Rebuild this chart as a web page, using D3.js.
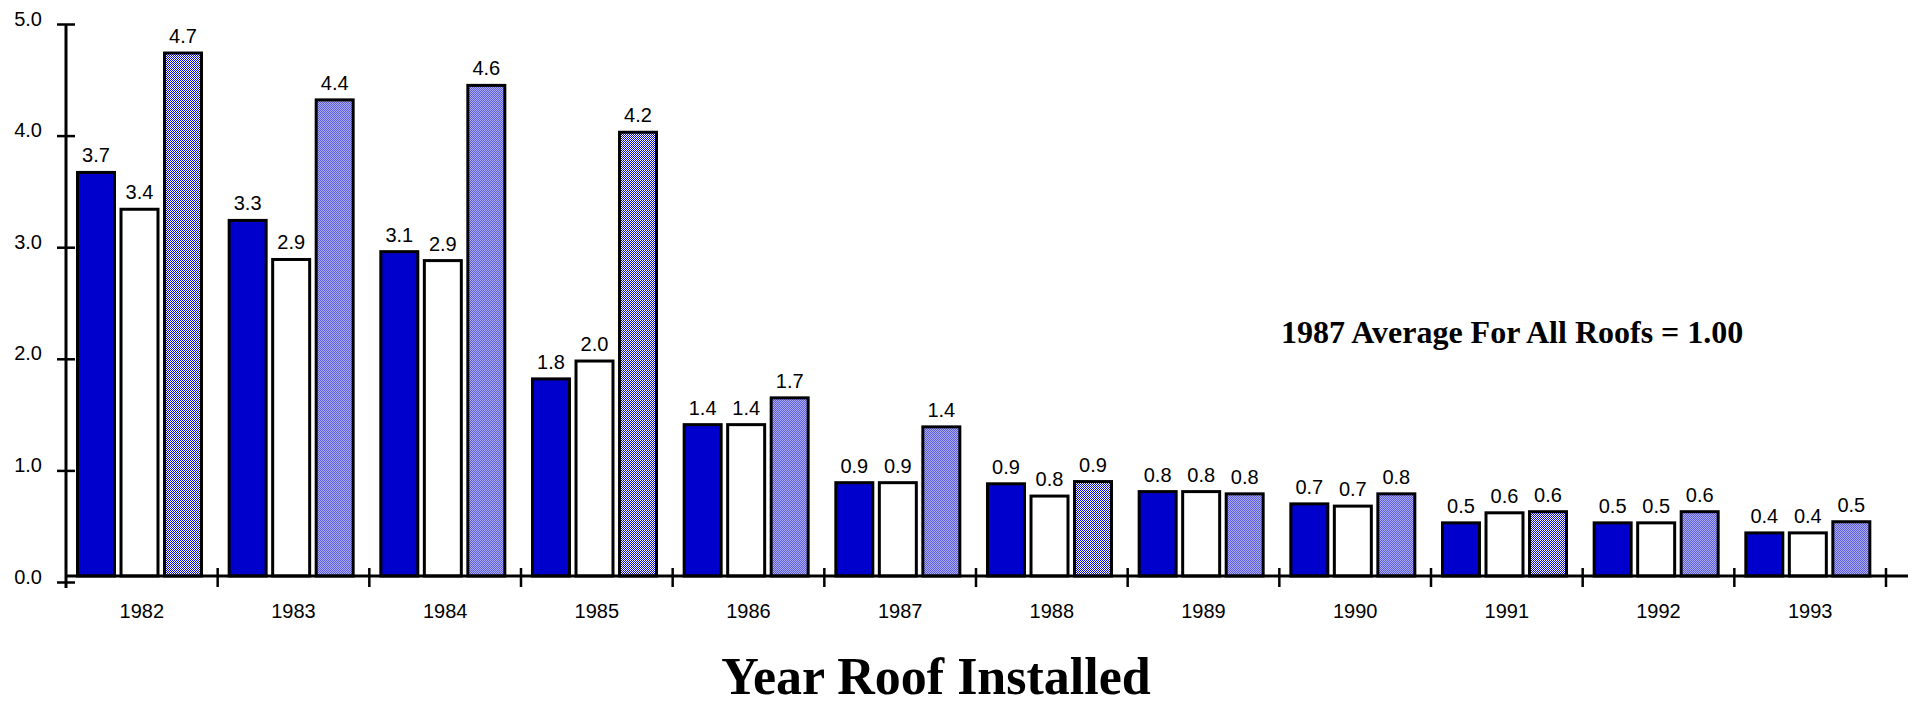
<!DOCTYPE html>
<meta charset="utf-8">
<style>
  body { margin: 0; background: #fff; }
  text { font-family: "Liberation Sans", Arial, sans-serif; fill: #000; }
  .serif { font-family: "Liberation Serif", "Times New Roman", serif; font-weight: bold; }
</style>
<body>
<script src="https://d3js.org/d3.v7.min.js"></script>
<script>

// chart data
var years = ["1982", "1983", "1984", "1985", "1986", "1987", "1988", "1989", "1990", "1991", "1992", "1993"];
var seriesNames = ["blue", "white", "dotted"];
var blueValues   = [3.67, 3.24, 2.96, 1.82, 1.41, 0.89, 0.88, 0.81, 0.70, 0.53, 0.53, 0.44];
var whiteValues  = [3.34, 2.89, 2.88, 1.98, 1.41, 0.89, 0.77, 0.81, 0.68, 0.62, 0.53, 0.44];
var dottedValues = [4.74, 4.32, 4.45, 4.03, 1.65, 1.39, 0.90, 0.79, 0.79, 0.63, 0.63, 0.54];
var blueLabels   = ["3.7", "3.3", "3.1", "1.8", "1.4", "0.9", "0.9", "0.8", "0.7", "0.5", "0.5", "0.4"];
var whiteLabels  = ["3.4", "2.9", "2.9", "2.0", "1.4", "0.9", "0.8", "0.8", "0.7", "0.6", "0.5", "0.4"];
var dottedLabels = ["4.7", "4.4", "4.6", "4.2", "1.7", "1.4", "0.9", "0.8", "0.8", "0.6", "0.6", "0.5"];
var yTicks = [0, 1, 2, 3, 4, 5];
var xTitle = "Year Roof Installed";
var note = "1987 Average For All Roofs = 1.00";

var width = 1916, height = 707;

var svg = d3.select("body").append("svg")
    .attr("width", width)
    .attr("height", height);

// dithered blue fill for the third series
var pat = svg.append("defs").append("pattern")
    .attr("id", "dots")
    .attr("width", 2).attr("height", 2)
    .attr("patternUnits", "userSpaceOnUse");
pat.append("rect").attr("width", 2).attr("height", 2).attr("fill", "#ffffff");
pat.append("rect").attr("x", 0).attr("y", 0).attr("width", 1).attr("height", 1).attr("fill", "#0a0ad4");
pat.append("rect").attr("x", 1).attr("y", 1).attr("width", 1).attr("height", 1).attr("fill", "#0a0ad4");

var fills = { blue: "#0000cd", white: "#ffffff", dotted: "url(#dots)" };

// scales
var axisX = 66;
var x = d3.scaleBand().domain(years).range([axisX, 1886]).padding(0);
var xs = d3.scaleBand().domain(seriesNames).range([11.5, 135.5]).paddingInner(0.15);
var y = d3.scaleLinear().domain([0, 5]).range([582, 24]);
var baseY = y(0) - 6;   // the horizontal axis sits a little above the 0.0 tick

// build rows
var rows = years.map(function(yr, i) {
  return [
    { year: yr, s: "blue",   v: blueValues[i],   label: blueLabels[i] },
    { year: yr, s: "white",  v: whiteValues[i],  label: whiteLabels[i] },
    { year: yr, s: "dotted", v: dottedValues[i], label: dottedLabels[i] }
  ];
});

var groups = svg.selectAll("g.year")
    .data(rows)
  .enter().append("g")
    .attr("class", "year")
    .attr("transform", function(d, i) { return "translate(" + x(years[i]) + ",0)"; });

groups.selectAll("rect")
    .data(function(d) { return d; })
  .enter().append("rect")
    .attr("x", function(d) { return xs(d.s); })
    .attr("y", function(d) { return y(d.v); })
    .attr("width", xs.bandwidth())
    .attr("height", function(d) { return baseY - y(d.v); })
    .attr("fill", function(d) { return fills[d.s]; })
    .attr("stroke", "#000")
    .attr("stroke-width", 3);

groups.selectAll("text.val")
    .data(function(d) { return d; })
  .enter().append("text")
    .attr("class", "val")
    .attr("x", function(d) { return xs(d.s) + xs.bandwidth() / 2; })
    .attr("y", function(d) { return y(d.v) - 10; })
    .attr("text-anchor", "middle")
    .style("font-size", "20px")
    .text(function(d) { return d.label; });

// y axis
var yAxis = svg.append("g")
    .attr("transform", "translate(" + axisX + ",0)")
    .call(d3.axisLeft(y).tickValues(yTicks).tickFormat(d3.format(".1f")).tickSizeOuter(0));
yAxis.select(".domain").remove();
yAxis.selectAll(".tick line")
    .attr("x1", -9).attr("x2", 9)
    .attr("stroke", "#000").attr("stroke-width", 2.5);
yAxis.selectAll(".tick text")
    .attr("x", -24).attr("dy", "0.05em")
    .style("font-size", "20px")
    .style("font-family", "Liberation Sans, Arial, sans-serif");
yAxis.append("line")
    .attr("x1", 0).attr("x2", 0)
    .attr("y1", y(5)).attr("y2", y(0) + 6)
    .attr("stroke", "#000").attr("stroke-width", 3);

// x axis line and boundary ticks
svg.append("line")
    .attr("x1", axisX).attr("x2", 1908)
    .attr("y1", baseY).attr("y2", baseY)
    .attr("stroke", "#000").attr("stroke-width", 3);

svg.selectAll("line.xtick")
    .data(years)
  .enter().append("line")
    .attr("class", "xtick")
    .attr("x1", function(d) { return x(d) + x.bandwidth(); })
    .attr("x2", function(d) { return x(d) + x.bandwidth(); })
    .attr("y1", baseY - 8).attr("y2", baseY + 11)
    .attr("stroke", "#000").attr("stroke-width", 2.5);

// year labels
var xAxis = svg.append("g")
    .attr("transform", "translate(0," + baseY + ")")
    .call(d3.axisBottom(x).tickSize(0));
xAxis.select(".domain").remove();
xAxis.selectAll(".tick text")
    .attr("y", 42).attr("dy", "0")
    .style("font-size", "20px")
    .style("font-family", "Liberation Sans, Arial, sans-serif");

// annotation and axis title
svg.append("text")
    .attr("class", "serif")
    .attr("x", 1281).attr("y", 343)
    .style("font-size", "32px")
    .text(note);

svg.append("text")
    .attr("class", "serif")
    .attr("x", 936).attr("y", 694)
    .attr("text-anchor", "middle")
    .style("font-size", "52px")
    .text(xTitle);

</script>
</body>
